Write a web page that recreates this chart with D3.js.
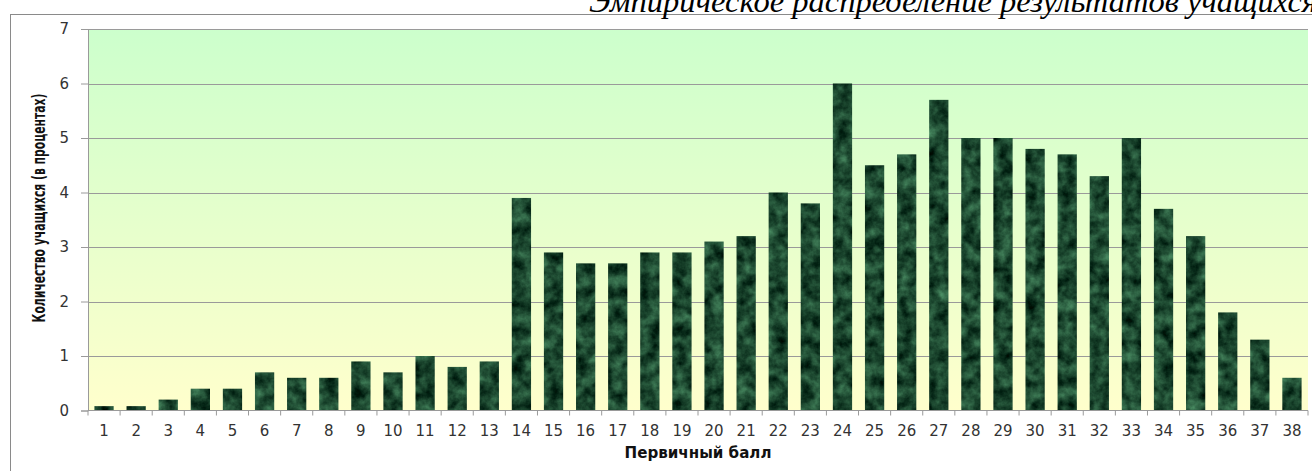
<!DOCTYPE html>
<html><head><meta charset="utf-8">
<script src="https://cdn.jsdelivr.net/npm/d3@7"></script>
<style>html,body{margin:0;padding:0;background:#fff;overflow:hidden}</style>
</head><body>
<svg id="c" width="1312" height="471"></svg>
<script>
const categories = d3.range(1, 39).map(String);
const values = [0.08,0.08,0.2,0.4,0.4,0.7,0.6,0.6,0.9,0.7,1.0,0.8,0.9,3.9,2.9,2.7,2.7,2.9,2.9,3.1,3.2,4.0,3.8,6.0,4.5,4.7,5.7,5.0,5.0,4.8,4.7,4.3,5.0,3.7,3.2,1.8,1.3,0.6];
const yTicks = [0,1,2,3,4,5,6,7];
const titleText = "Эмпирическое распределение результатов учащихся";
const xTitle = "Первичный балл";
const yTitle = "Количество учащихся (в процентах)";

const svg = d3.select("#c");
const m = {left:88, right:1308, top:29, bottom:410.5};

const defs = svg.append("defs");
const g = defs.append("linearGradient").attr("id","bg").attr("x1",0).attr("y1",0).attr("x2",0).attr("y2",1);
g.append("stop").attr("offset","0%").attr("stop-color","#ccffcc");
g.append("stop").attr("offset","100%").attr("stop-color","#ffffcc");

const f = defs.append("filter").attr("id","marble").attr("x",0).attr("y",0).attr("width",1).attr("height",1)
  .attr("color-interpolation-filters","sRGB");
f.append("feTurbulence").attr("type","fractalNoise").attr("baseFrequency","0.08").attr("numOctaves",4).attr("seed",5).attr("result","n");
f.append("feColorMatrix").attr("in","n").attr("type","matrix")
  .attr("values","0.4 0 0 0 -0.09  0.6 0 0 0 -0.02  0.45 0 0 0 -0.04  0 0 0 0 1").attr("result","c");
f.append("feComposite").attr("in","c").attr("in2","SourceGraphic").attr("operator","in");

// frame
svg.append("rect").attr("x",10.5).attr("y",14.5).attr("width",1320).attr("height",480)
  .attr("fill","none").attr("stroke","#8a8a8a").attr("stroke-width",1);

const x = d3.scaleBand().domain(categories).range([m.left, m.right]).paddingInner(0.4).paddingOuter(0.2);
const y = d3.scaleLinear().domain([0,7]).range([m.bottom, m.top]);

svg.append("rect").attr("x",m.left).attr("y",m.top).attr("width",m.right-m.left).attr("height",m.bottom-m.top).attr("fill","url(#bg)");

// gridlines
svg.append("g").selectAll("line").data(yTicks.filter(d=>d>0)).join("line")
  .attr("x1",m.left).attr("x2",m.right).attr("y1",d=>Math.round(y(d))+0.5).attr("y2",d=>Math.round(y(d))+0.5)
  .attr("stroke","#9a9a9a").attr("stroke-width",1.2);

// bars
svg.append("g").selectAll("rect").data(values).join("rect")
  .attr("x",(d,i)=>x(categories[i])).attr("width",x.bandwidth())
  .attr("y",d=>y(d)).attr("height",d=>y(0)-y(d))
  .attr("fill","#1d5331").attr("filter","url(#marble)");

const tickFont = "'DejaVu Sans', Verdana, sans-serif";
// y axis
const ya = d3.axisLeft(y).tickValues(yTicks).tickSize(7).tickPadding(12).tickFormat(d3.format("d"));
const yg = svg.append("g").attr("transform",`translate(${m.left},0)`).call(ya);
yg.select(".domain").attr("stroke","#9a9a9a");
yg.selectAll(".tick line").attr("stroke","#9a9a9a");
yg.selectAll(".tick text").attr("fill","#333").style("font-family",tickFont).style("font-size","15px");

// x axis: ticks at band boundaries
const xa = svg.append("g").attr("transform",`translate(0,${m.bottom})`);
xa.append("line").attr("x1",m.left).attr("x2",m.right).attr("stroke","#9a9a9a").attr("stroke-width",1.2);
const step = x.step();
const bounds = categories.map((c,i)=> i===0 ? m.left : x(c) - step*x.paddingInner()/2).concat([m.right]);
xa.selectAll("line.t").data(bounds).join("line").attr("class","t")
  .attr("x1",d=>d).attr("x2",d=>d).attr("y1",0).attr("y2",5).attr("stroke","#9a9a9a");
xa.selectAll("text").data(categories).join("text")
  .attr("x",d=>x(d)+x.bandwidth()/2).attr("y",25).attr("text-anchor","middle")
  .attr("fill","#333").style("font-family",tickFont).style("font-size","15px")
  .text(d=>d);

function fit(sel, base, target){
  const w = sel.node().getComputedTextLength();
  sel.style("font-size", (base*target/w).toFixed(2)+"px");
}
// axis titles
const xt = svg.append("text").attr("x",(m.left+m.right)/2).attr("y",458).attr("text-anchor","middle")
  .style("font-family","'DejaVu Sans', Verdana, sans-serif").style("font-weight","bold").style("font-size","14px")
  .attr("fill","#111").text(xTitle);
fit(xt, 14, 147);
const yt = svg.append("text").attr("text-anchor","middle")
  .style("font-family","'DejaVu Sans', Verdana, sans-serif").style("font-weight","bold").style("font-size","17px")
  .attr("fill","#111").text(yTitle);
const yw = yt.node().getComputedTextLength();
yt.attr("transform",`translate(45,208) rotate(-90) scale(${(229/yw).toFixed(4)},1)`);

// title
const t = svg.append("text").attr("x",1317).attr("y",12).attr("text-anchor","end")
  .style("font-family","'Liberation Serif', 'Times New Roman', serif").style("font-style","italic").style("font-size","24px")
  .attr("fill","#000").text(titleText);
fit(t, 24, 1317-589);
</script>
</body></html>
